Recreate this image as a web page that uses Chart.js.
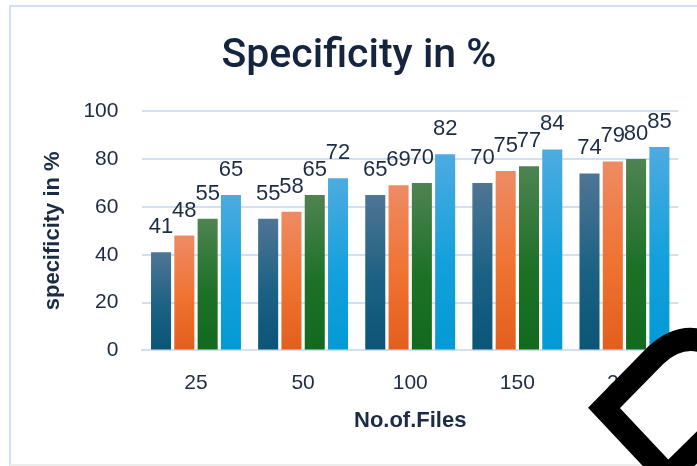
<!DOCTYPE html>
<html>
<head>
<meta charset="utf-8">
<title>Specificity in %</title>
<script src="https://cdn.jsdelivr.net/npm/chart.js@4"></script>
<style>
  html, body { margin: 0; padding: 0; background: #fff; }
  #wrap { width: 697px; height: 466px; }
</style>
</head>
<body>
<div id="wrap"><canvas id="chart" width="697" height="466"></canvas></div>
<script>
// values
const files = ['25', '50', '100', '150', '200'];
const series1 = [41, 55, 65, 70, 74];
const series2 = [48, 58, 69, 75, 79];
const series3 = [55, 65, 70, 77, 80];
const series4 = [65, 72, 82, 84, 85];
const yTicks = [0, 20, 40, 60, 80, 100];

const ink = '#1b2c44';

// top -> middle -> bottom colours of each bar
const fills = [
  ['#4f7594', '#1b6184', '#0b5577'],
  ['#ee8b64', '#ef7230', '#e35e1c'],
  ['#4f8352', '#1d7127', '#126a1e'],
  ['#4dabe0', '#14a0dc', '#039ad5']
];

function barFill(stops) {
  return function (c) {
    const chart = c.chart;
    if (!chart.chartArea || c.type !== 'data') return stops[2];
    const y = chart.scales.y;
    const top = y.getPixelForValue(c.raw);
    const bottom = y.getPixelForValue(0);
    const g = chart.ctx.createLinearGradient(0, top, 0, bottom);
    g.addColorStop(0, stops[0]);
    g.addColorStop(0.55, stops[1]);
    g.addColorStop(1, stops[2]);
    return g;
  };
}

// frame round the picture + the black mark in the lower right corner
const decor = {
  id: 'decor',
  beforeDraw(chart) {
    const ctx = chart.ctx;
    ctx.save();
    ctx.fillStyle = '#fff';
    ctx.fillRect(0, 0, chart.width, chart.height);
    ctx.strokeStyle = '#cfe0f4';
    ctx.lineWidth = 2;
    ctx.beginPath();
    ctx.moveTo(10, 470);
    ctx.lineTo(10, 6);
    ctx.lineTo(700, 6);
    ctx.stroke();
    ctx.strokeStyle = '#ececec';
    ctx.beginPath();
    ctx.moveTo(10, 465);
    ctx.lineTo(700, 465);
    ctx.stroke();
    ctx.restore();
  },
  afterDraw(chart) {
    const ctx = chart.ctx;
    ctx.save();
    ctx.strokeStyle = '#000';
    ctx.lineWidth = 23;
    ctx.lineJoin = 'miter';
    ctx.beginPath();
    ctx.moveTo(745, 400);
    ctx.lineTo(668, 476);
    ctx.lineTo(604, 408);
    ctx.lineTo(656, 355);
    ctx.quadraticCurveTo(683, 330, 712, 345);
    ctx.stroke();
    ctx.restore();
  }
};

// value above every bar
const valueLabels = {
  id: 'valueLabels',
  afterDatasetsDraw(chart) {
    const ctx = chart.ctx;
    ctx.save();
    ctx.font = '22px "Liberation Sans", Arial, sans-serif';
    ctx.fillStyle = ink;
    ctx.textAlign = 'center';
    ctx.textBaseline = 'alphabetic';
    chart.data.datasets.forEach((ds, i) => {
      chart.getDatasetMeta(i).data.forEach((bar, j) => {
        ctx.fillText(String(ds.data[j]), bar.x, bar.y - 19);
      });
    });
    ctx.restore();
  }
};

const sets = [series1, series2, series3, series4];

new Chart(document.getElementById('chart'), {
  type: 'bar',
  data: {
    labels: files,
    datasets: sets.map((vals, i) => ({
      label: 'Series ' + (i + 1),
      data: vals,
      backgroundColor: barFill(fills[i]),
      borderWidth: 0,
      categoryPercentage: 0.87,
      barPercentage: 0.86
    }))
  },
  options: {
    responsive: false,
    animation: false,
    layout: { padding: { left: 40, right: 19, top: 10, bottom: 28 } },
    plugins: {
      legend: { display: false },
      tooltip: { enabled: false },
      title: {
        display: true,
        text: 'Specificity in %',
        color: '#14263f',
        font: { family: 'Roboto', size: 41, weight: '500' },
        padding: { top: 22, bottom: 30 }
      }
    },
    scales: {
      x: {
        grid: { display: false, drawTicks: false },
        border: { display: true, color: '#d3e0f1', width: 2 },
        ticks: {
          color: ink,
          padding: 20,
          font: { family: 'Liberation Sans', size: 21 }
        },
        title: {
          display: true,
          text: 'No.of.Files',
          color: ink,
          font: { family: 'Liberation Sans', size: 22, weight: 'bold' },
          padding: { top: -8, bottom: 4 }
        }
      },
      y: {
        min: 0,
        max: 100,
        afterBuildTicks(scale) {
          scale.ticks = yTicks.map(v => ({ value: v }));
        },
        grid: { color: '#d3e0f1', lineWidth: 2, drawTicks: false },
        border: { display: false },
        ticks: {
          color: ink,
          padding: 24,
          font: { family: 'Liberation Sans', size: 21 }
        },
        title: {
          display: true,
          text: 'specificity in %',
          color: ink,
          font: { family: 'Liberation Sans', size: 22, weight: 'bold' },
          padding: { top: 0, bottom: -7 }
        }
      }
    }
  },
  plugins: [decor, valueLabels]
});
</script>
</body>
</html>
